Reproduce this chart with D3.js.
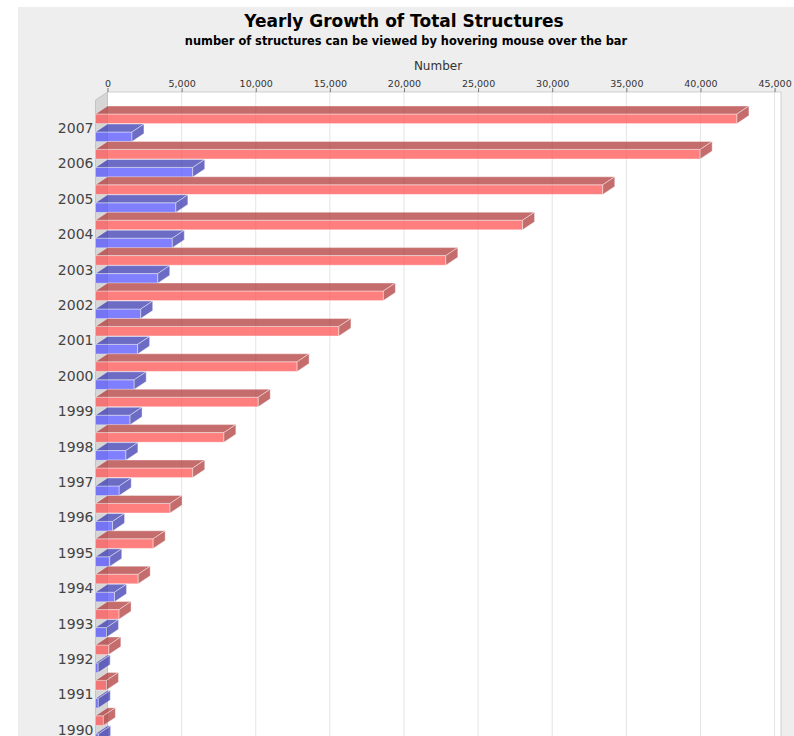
<!DOCTYPE html>
<html>
<head>
<meta charset="utf-8">
<script src="https://cdn.jsdelivr.net/npm/d3@7"></script>
<style>
  html, body { margin: 0; padding: 0; background: #ffffff; }
  svg { display: block; }
</style>
</head>
<body>
<svg id="chart" width="794" height="736"></svg>
<script>
// Category labels, top to bottom
const years = ["2007", "2006", "2005", "2004", "2003", "2002", "2001", "2000", "1999",
               "1998", "1997", "1996", "1995", "1994", "1993", "1992", "1991", "1990"];

// Cumulative number of structures at the end of each year
const totalStructures = [43270, 40790, 34220, 28810, 23630, 19420, 16420, 13600, 10980,
                         8660, 6560, 5030, 3890, 2880, 1590, 900, 740, 530];

// Structures added during each year
const newStructures = [2460, 6560, 5420, 5180, 4200, 3050, 2840, 2610, 2330,
                       2050, 1600, 1150, 960, 1280, 740, 180, 190, 210];

const seriesNames = ["Total", "New"];
const tickValues = [0, 5000, 10000, 15000, 20000, 25000, 30000, 35000, 40000, 45000];

const titleText = "Yearly Growth of Total Structures";
const subtitleText = "number of structures can be viewed by hovering mouse over the bar";
const axisLabel = "Number";

// ---- layout ----
const W = 794, H = 736;
const depthX = 12, depthY = 8;          // 3D extrusion of bars and wall
const plotLeft = 107.5, plotRight = 781, plotTop = 92, plotBottom = 800;

const svg = d3.select("#chart");

// chart background
svg.append("rect")
  .attr("x", 18).attr("y", 7).attr("width", W - 18).attr("height", H - 7)
  .attr("fill", "#eeeeee");

// titles
svg.append("text")
  .attr("x", 404).attr("y", 26.7)
  .attr("text-anchor", "middle")
  .attr("font-family", "DejaVu Sans, sans-serif")
  .attr("font-weight", "bold").attr("font-size", 17)
  .attr("fill", "#000")
  .text(titleText);

svg.append("text")
  .attr("x", 406).attr("y", 45)
  .attr("text-anchor", "middle")
  .attr("font-family", "DejaVu Sans, sans-serif")
  .attr("font-weight", "bold").attr("font-size", 11.4)
  .attr("fill", "#000")
  .text(subtitleText);

// scales
const x = d3.scaleLinear()
  .domain([0, d3.max(totalStructures) * 1.05])
  .range([plotLeft, plotRight]);

const y = d3.scaleBand()
  .domain(years)
  .range([110.1, 110.1 + years.length * 35.4])
  .paddingInner(0.22)
  .paddingOuter(0.11);

const ySeries = d3.scaleBand()
  .domain(seriesNames)
  .range([0, y.bandwidth()])
  .paddingInner(0.4667)
  .paddingOuter(0);

// plot background (back wall area)
svg.append("rect")
  .attr("x", plotLeft).attr("y", plotTop)
  .attr("width", plotRight - plotLeft).attr("height", plotBottom - plotTop)
  .attr("fill", "#ffffff");

// gridlines
svg.append("g")
  .selectAll("line")
  .data(tickValues.slice(1))
  .join("line")
  .attr("x1", d => x(d)).attr("x2", d => x(d))
  .attr("y1", plotTop).attr("y2", plotBottom)
  .attr("stroke", "#e4e4e4")
  .attr("stroke-width", 1);

// left 3D wall
const wallX0 = x(0) - depthX;
svg.append("path")
  .attr("d", `M${wallX0},${plotTop + depthY} L${x(0)},${plotTop} L${x(0)},${plotBottom} L${wallX0},${plotBottom + depthY} Z`)
  .attr("fill", "#d6d6d6")
  .attr("stroke", "#bdbdbd")
  .attr("stroke-width", 0.8);

// plot outline (top and right)
svg.append("path")
  .attr("d", `M${plotLeft},${plotTop} L${plotRight},${plotTop} L${plotRight},${plotBottom}`)
  .attr("fill", "none")
  .attr("stroke", "#c4c4c4")
  .attr("stroke-width", 0.8);

// top value axis
const xAxis = d3.axisTop(x)
  .tickValues(tickValues)
  .tickFormat(d3.format(","))
  .tickSize(4)
  .tickPadding(2);

const axisG = svg.append("g")
  .attr("transform", `translate(0,${plotTop})`)
  .call(xAxis);
axisG.select(".domain").remove();
axisG.selectAll(".tick line").attr("stroke", "#777");
axisG.selectAll(".tick text")
  .attr("font-family", "DejaVu Sans, sans-serif")
  .attr("font-size", 9.5)
  .attr("fill", "#333")
  .attr("y", -5.3)
  .attr("dy", 0);

svg.append("text")
  .attr("x", 438).attr("y", 70)
  .attr("text-anchor", "middle")
  .attr("font-family", "DejaVu Sans, sans-serif")
  .attr("font-size", 12)
  .attr("fill", "#333")
  .text(axisLabel);

// category labels
svg.append("g")
  .selectAll("text")
  .data(years)
  .join("text")
  .attr("x", 93.5)
  .attr("y", d => y(d) + y.bandwidth() / 2 + 5.2)
  .attr("text-anchor", "end")
  .attr("font-family", "DejaVu Sans, sans-serif")
  .attr("font-size", 14)
  .attr("fill", "#444444")
  .text(d => d);

// 3D bars
const palette = {
  Total: { front: "rgb(255,85,85)", dark: "rgb(178,59,59)" },
  New:   { front: "rgb(85,85,255)", dark: "rgb(59,59,178)" }
};

const barData = [];
years.forEach((yr, i) => {
  barData.push({ year: yr, series: "Total", value: totalStructures[i] });
  barData.push({ year: yr, series: "New", value: newStructures[i] });
});

const bars = svg.append("g")
  .selectAll("g")
  .data(barData)
  .join("g")
  .attr("opacity", 0.75);

bars.each(function(d) {
  const g = d3.select(this);
  const x0 = x(0) - depthX;
  const x1 = x(d.value) - depthX;
  const top = y(d.year) + ySeries(d.series);
  const h = ySeries.bandwidth();
  const c = palette[d.series];
  const edge = { stroke: "#ffffff", "stroke-opacity": 0.45, "stroke-width": 0.9 };

  g.append("rect")
    .attr("x", x0).attr("y", top)
    .attr("width", x1 - x0).attr("height", h)
    .attr("fill", c.front)
    .attr("stroke", edge.stroke).attr("stroke-opacity", edge["stroke-opacity"])
    .attr("stroke-width", edge["stroke-width"]);

  g.append("path")
    .attr("d", `M${x0},${top} L${x0 + depthX},${top - depthY} L${x1 + depthX},${top - depthY} L${x1},${top} Z`)
    .attr("fill", c.dark)
    .attr("stroke", edge.stroke).attr("stroke-opacity", edge["stroke-opacity"])
    .attr("stroke-width", edge["stroke-width"]);

  g.append("path")
    .attr("d", `M${x1},${top} L${x1 + depthX},${top - depthY} L${x1 + depthX},${top + h - depthY} L${x1},${top + h} Z`)
    .attr("fill", c.dark)
    .attr("stroke", edge.stroke).attr("stroke-opacity", edge["stroke-opacity"])
    .attr("stroke-width", edge["stroke-width"]);
});
</script>
</body>
</html>
